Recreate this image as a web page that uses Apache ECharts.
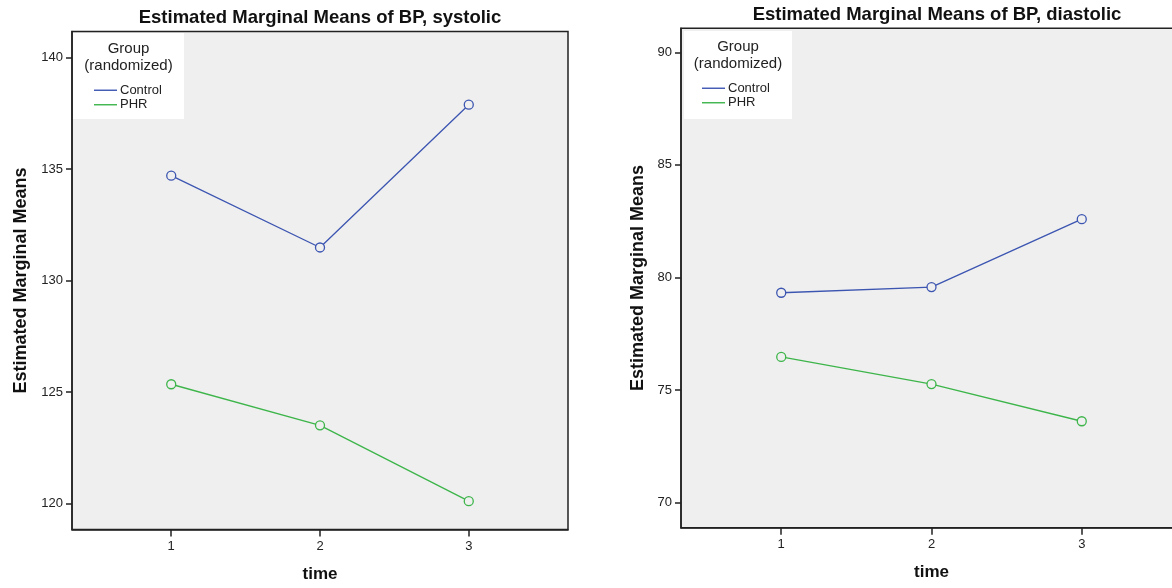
<!DOCTYPE html>
<html>
<head>
<meta charset="utf-8">
<title>Estimated Marginal Means of BP</title>
<script src="https://cdn.jsdelivr.net/npm/echarts@6/dist/echarts.min.js"></script>
<style>
  html, body { margin: 0; padding: 0; background: #ffffff; }
  #chart { width: 1172px; height: 588px; }
</style>
</head>
<body>
<div id="chart"></div>
<script>
// Time points (x axis)
const timePoints = [1, 2, 3];

// Systolic blood pressure, estimated marginal means by group
const sysControl = [134.70, 131.48, 137.88];
const sysPHR = [125.35, 123.51, 120.11];

// Diastolic blood pressure, estimated marginal means by group
const diaControl = [79.32, 79.57, 82.59];
const diaPHR = [76.47, 75.26, 73.61];

// Tick labels
const sysTicks = [120, 125, 130, 135, 140];
const diaTicks = [70, 75, 80, 85, 90];

const groupNames = ['Control', 'PHR'];
const titles = ['Estimated Marginal Means of BP, systolic', 'Estimated Marginal Means of BP, diastolic'];
const yAxisTitle = 'Estimated Marginal Means';
const xAxisTitle = 'time';

const FONT = "Arial, 'Liberation Sans', sans-serif";
const INK = '#222222';
const PLOT_BG = '#efefef';
const COLORS = { Control: '#3c55b1', PHR: '#3db54a' };

const pairs = vals => timePoints.map((t, i) => [t, vals[i]]);

function xAxisFor(gridIndex) {
  return {
    gridIndex: gridIndex,
    type: 'value',
    min: 0.333,
    max: 3.667,
    name: xAxisTitle,
    nameLocation: 'middle',
    nameGap: 36,
    nameTextStyle: { fontFamily: FONT, fontWeight: 'bold', fontSize: 17, color: '#111' },
    axisLine: { show: true, lineStyle: { color: INK, width: 1.5 } },
    axisTick: { show: true, customValues: timePoints, length: 7, lineStyle: { color: INK, width: 1.5 } },
    axisLabel: { customValues: timePoints, margin: 10, fontFamily: FONT, fontSize: 13, color: INK },
    splitLine: { show: false }
  };
}

function yAxisFor(gridIndex, ticks, min, max, gap) {
  return {
    gridIndex: gridIndex,
    type: 'value',
    min: min,
    max: max,
    name: yAxisTitle,
    nameLocation: 'middle',
    nameGap: gap,
    nameTextStyle: { fontFamily: FONT, fontWeight: 'bold', fontSize: 18, color: '#111' },
    axisLine: { show: true, lineStyle: { color: INK, width: 1.5 } },
    axisTick: { show: true, customValues: ticks, length: 6, lineStyle: { color: INK, width: 1.5 } },
    axisLabel: { customValues: ticks, margin: 9, fontFamily: FONT, fontSize: 13, color: INK },
    splitLine: { show: false }
  };
}

function lineSeries(name, gridIndex, vals) {
  return {
    name: name,
    type: 'line',
    xAxisIndex: gridIndex,
    yAxisIndex: gridIndex,
    data: pairs(vals),
    symbol: 'circle',
    symbolSize: 9,
    showAllSymbol: true,
    color: COLORS[name],
    lineStyle: { color: COLORS[name], width: 1.3 },
    itemStyle: { color: PLOT_BG, borderColor: COLORS[name], borderWidth: 1.3 },
    emphasis: { disabled: true },
    animation: false
  };
}

function legendFor(left, top) {
  return {
    left: left,
    top: top,
    orient: 'vertical',
    data: groupNames.map(n => ({ name: n, itemStyle: { color: COLORS[n], borderWidth: 0 } })),
    icon: 'rect',
    itemWidth: 23,
    itemHeight: 1.4,
    itemGap: 0,
    selectedMode: false,
    padding: 0,
    z: 5,
    textStyle: { fontFamily: FONT, fontSize: 13, color: INK, lineHeight: 14.5, padding: [0, 0, 0, -2] }
  };
}

function legendHeader(cx, top) {
  return [
    { type: 'text', z: 3, x: cx, y: top, style: { text: 'Group', fontFamily: FONT, fontSize: 15, fill: INK, align: 'center', verticalAlign: 'middle' } },
    { type: 'text', z: 3, x: cx, y: top + 17, style: { text: '(randomized)', fontFamily: FONT, fontSize: 15, fill: INK, align: 'center', verticalAlign: 'middle' } }
  ];
}

const chart = echarts.init(document.getElementById('chart'), null, { renderer: 'canvas' });

chart.setOption({
  animation: false,
  backgroundColor: '#ffffff',
  grid: [
    { left: 72, top: 31.5, width: 496, height: 498, outerBoundsMode: 'none', show: true, backgroundColor: PLOT_BG, borderColor: INK, borderWidth: 1.5 },
    // the diastolic panel runs past the right edge of the canvas
    { left: 681, top: 28.3, width: 501, height: 499.4, outerBoundsMode: 'none', show: true, backgroundColor: PLOT_BG, borderColor: INK, borderWidth: 1.5 }
  ],
  xAxis: [xAxisFor(0), xAxisFor(1)],
  yAxis: [
    yAxisFor(0, sysTicks, 118.84, 141.16, 42),
    yAxisFor(1, diaTicks, 68.88, 91.07, 34)
  ],
  legend: [legendFor(94, 83), legendFor(702, 81)],
  series: [
    lineSeries('Control', 0, sysControl),
    lineSeries('PHR', 0, sysPHR),
    lineSeries('Control', 1, diaControl),
    lineSeries('PHR', 1, diaPHR)
  ],
  graphic: [
    // chart titles
    { type: 'text', x: 320, y: 17.5, style: { text: titles[0], fontFamily: FONT, fontWeight: 'bold', fontSize: 18.5, fill: '#111', align: 'center', verticalAlign: 'middle' } },
    { type: 'text', x: 937, y: 14.5, style: { text: titles[1], fontFamily: FONT, fontWeight: 'bold', fontSize: 18.5, fill: '#111', align: 'center', verticalAlign: 'middle' } },
    // legend boxes
    { type: 'rect', z: 1, shape: { x: 73, y: 33, width: 111, height: 86 }, style: { fill: '#ffffff' } },
    { type: 'rect', z: 1, shape: { x: 684, y: 31, width: 108, height: 88 }, style: { fill: '#ffffff' } }
  ].concat(legendHeader(128.5, 49), legendHeader(738, 47))
});
</script>
</body>
</html>
